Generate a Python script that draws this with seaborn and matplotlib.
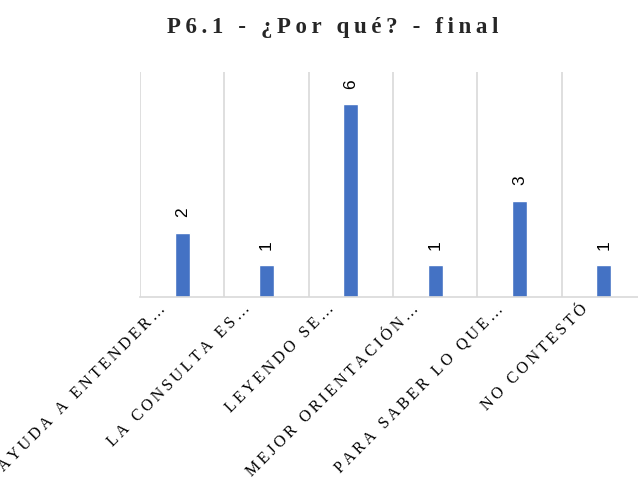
import matplotlib
matplotlib.use("Agg")
import matplotlib.pyplot as plt
import matplotlib.transforms as mtransforms
import seaborn as sns

categorias = ["AYUDA A ENTENDER…", "LA CONSULTA ES…", "LEYENDO SE…",
              "MEJOR ORIENTACIÓN…", "PARA SABER LO QUE…", "NO CONTESTÓ"]
valores = [2, 1, 6, 1, 3, 1]
titulo = "P6.1 - ¿Por qué? - final"


def espaciado(texto):
    # imita el espaciado entre letras del original
    return "\u2009".join(texto)


sns.set_theme(style="white")
plt.rcParams['font.family'] = ['Liberation Serif', 'DejaVu Serif']

fig = plt.figure(figsize=(6.38, 4.91), dpi=100)
ax = fig.add_axes([140 / 638, 1 - 297 / 491, 506 / 638, 225 / 491])

sns.barplot(x=categorias, y=valores, color="#4472C4", width=0.18, ax=ax,
            saturation=1)

ax.set_ylim(0, 7)
ax.set_xlim(-0.5, len(categorias) - 0.5)
ax.set_yticks([])
ax.set_xticks([i + 0.5 for i in range(-1, len(categorias))], minor=True)
ax.grid(False)
ax.grid(True, which="minor", axis="x", color="#D9D9D9", linewidth=1.2)
ax.tick_params(axis="x", which="both", length=0, pad=3)
for s in ["top", "right", "left"]:
    ax.spines[s].set_visible(False)
ax.spines["bottom"].set_color("#D9D9D9")
ax.spines["bottom"].set_linewidth(1.2)

ax.set_xticks(range(len(categorias)))
ax.set_xticklabels([espaciado(c) for c in categorias], rotation=45,
                   ha="right", fontsize=11.5, color="#000000")
desplaza = mtransforms.ScaledTranslation(-13 / 100, 0, fig.dpi_scale_trans)
for lab in ax.get_xticklabels():
    lab.set_transform(lab.get_transform() + desplaza)

for i, v in enumerate(valores):
    ax.annotate(str(v), (i, v), xytext=(0, 11), textcoords="offset points",
                rotation=90, ha="center", va="bottom", fontsize=12.5,
                family=["Liberation Sans", "DejaVu Sans"], color="#000000")

ax.set_xlabel("")
ax.set_ylabel("")
fig.text(333 / 638, 1 - 27 / 491, espaciado(titulo), ha="center",
         va="center", fontsize=16.5, fontweight="bold")

fig.savefig("out.png", dpi=100)
